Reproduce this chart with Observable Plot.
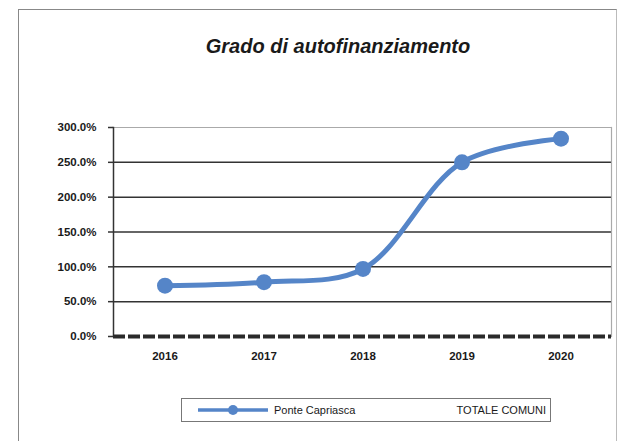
<!DOCTYPE html>
<html>
<head>
<meta charset="utf-8">
<script src="https://cdn.jsdelivr.net/npm/d3@7"></script>
<script src="https://cdn.jsdelivr.net/npm/@observablehq/plot@0.6"></script>
<style>
  html, body { margin: 0; padding: 0; background: #fff; }
  #wrap { position: relative; width: 628px; height: 441px; overflow: hidden; font-family: "Liberation Sans", Arial, sans-serif; }
  #border { position: absolute; left: 18px; top: 9px; width: 597px; height: 440px; border-top: 1.5px solid #888; border-left: 1.5px solid #888; border-right: 1px solid #bbb; }
  #title { position: absolute; left: 38px; width: 600px; top: 35px; text-align: center; font-size: 20px; font-weight: bold; font-style: italic; color: #1a1a1a; }
  #chart { position: absolute; left: 0; top: 0; }
  #legend { position: absolute; left: 181px; top: 398px; width: 370px; height: 24px; border: 1.5px solid #777; box-sizing: border-box; font-size: 11px; color: #1a1a1a; }
  #legend svg { position: absolute; left: 14px; top: 3px; }
  #leg1 { position: absolute; left: 92px; top: 5px; }
  #leg2 { position: absolute; right: 4px; top: 5px; }
</style>
</head>
<body>
<div id="wrap">
  <div id="border"></div>
  <div id="chart"></div>
  <div id="title">Grado di autofinanziamento</div>
  <div id="legend">
    <svg width="76" height="16"><line x1="2" y1="8" x2="72" y2="8" stroke="#5585c8" stroke-width="3.5"/><circle cx="37" cy="8" r="5" fill="#5585c8"/></svg>
    <span id="leg1">Ponte Capriasca</span>
    <span id="leg2">TOTALE COMUNI</span>
  </div>
</div>
<script>
const years = ["2016", "2017", "2018", "2019", "2020"];
const ponteCapriasca = [73, 78, 97, 250, 284];
const yTicks = [0, 50, 100, 150, 200, 250, 300];
const gridLines = [50, 100, 150, 200, 250];

const data = years.map((y, i) => ({year: y, value: ponteCapriasca[i]}));

const chart = Plot.plot({
  width: 628,
  height: 380,
  marginTop: 127,
  marginBottom: 44,
  marginLeft: 113,
  marginRight: 17,
  style: {fontFamily: "Liberation Sans, Arial, sans-serif", fontSize: "11.5px", fontWeight: "bold", color: "#1a1a1a", background: "transparent"},
  x: {type: "band", domain: years, padding: 0, label: null},
  y: {domain: [0, 300], label: null},
  marks: [
    Plot.ruleY([300], {stroke: "#aaa", strokeWidth: 1.2}),
    Plot.ruleY(gridLines, {stroke: "#333", strokeWidth: 1.5}),
    Plot.frame({stroke: "#aaa", strokeWidth: 1.2, anchor: "right"}),
    Plot.frame({stroke: "#333", strokeWidth: 1.5, anchor: "left"}),
    Plot.axisY({ticks: yTicks, tickFormat: d => d.toFixed(1) + "%", tickSize: 5, tickPadding: 12, stroke: "#333", strokeWidth: 1.5, label: null}),
    Plot.axisX({tickSize: 0, tickPadding: 15, label: null}),
    Plot.ruleY([0], {stroke: "#2a2a2a", strokeWidth: 4, strokeDasharray: "12,3"}),
    Plot.line(data, {x: "year", y: "value", curve: "catmull-rom", stroke: "#5585c8", strokeWidth: 5}),
    Plot.dot(data, {x: "year", y: "value", r: 8, fill: "#5585c8", stroke: "none"})
  ]
});
document.getElementById("chart").appendChild(chart);
</script>
</body>
</html>
